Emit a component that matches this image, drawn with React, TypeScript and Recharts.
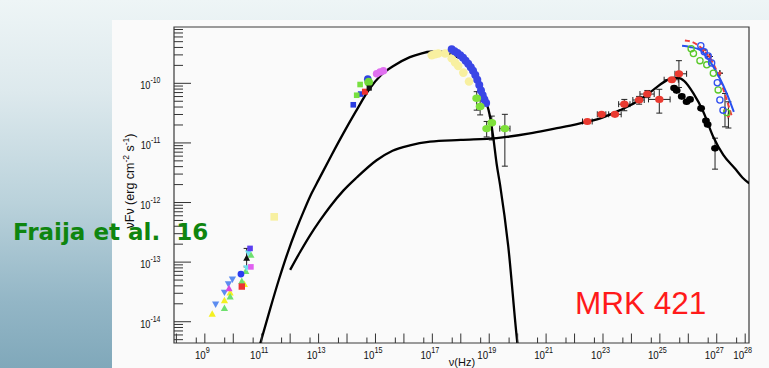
import React from 'react';
import { ComposedChart, XAxis, YAxis, Scatter, Line, ErrorBar, ReferenceArea } from 'recharts';

// All values are log10(nu / Hz) and log10(nuFnu / erg cm^-2 s^-1)
type Pt = [number, number];
// x, y, xLow, xHigh, yLow, yHigh
type ErrPt = [number, number, number, number, number, number];

const X_RANGE: [number, number] = [7.916, 28.134];
const Y_RANGE: [number, number] = [-14.357, -9.055];

const xDecades = [8, 9, 10, 11, 12, 13, 14, 15, 16, 17, 18, 19, 20, 21, 22, 23, 24, 25, 26, 27, 28];
const xLabelled = [9, 11, 13, 15, 17, 19, 21, 23, 25, 27, 28];

// Model curves
const synchrotronCurve: Pt[] = [
  [10.9, -14.45], [11.0, -14.28], [11.3, -13.78], [11.6, -13.3], [11.9, -12.86], [12.2, -12.47],
  [12.5, -12.12], [12.75, -11.85], [13.0, -11.62], [13.45, -11.21], [13.87, -10.84], [14.3, -10.48],
  [14.78, -10.1], [15.2, -9.86], [15.63, -9.71], [16.21, -9.56], [16.6, -9.5], [16.92, -9.47],
  [17.3, -9.47], [17.65, -9.52], [17.95, -9.57], [18.15, -9.61], [18.32, -9.66], [18.5, -9.78],
  [18.68, -10.0], [18.85, -10.25], [19.03, -10.56], [19.14, -10.9], [19.26, -11.35], [19.38, -11.7],
  [19.67, -12.74], [19.99, -14.36], [20.05, -14.6],
];

const comptonCurve: Pt[] = [
  [12.0, -13.13], [12.35, -12.83], [12.7, -12.55], [13.05, -12.3], [13.4, -12.07], [13.87, -11.8],
  [14.34, -11.58], [15.04, -11.29], [15.6, -11.13], [16.21, -11.04], [16.92, -10.98], [18.0, -10.95],
  [19.26, -10.92], [19.61, -10.9], [20.43, -10.84], [21.3, -10.76], [21.85, -10.71], [22.5, -10.64],
  [23.0, -10.57], [23.6, -10.45], [24.18, -10.31], [24.77, -10.11], [25.24, -9.95], [25.47, -9.91],
  [25.65, -9.91], [25.85, -9.96], [26.18, -10.17], [26.53, -10.48], [26.88, -10.9], [27.23, -11.2],
  [27.64, -11.43], [27.9, -11.58], [28.14, -11.68],
];

// TeV spectral fits
const tevFitBlue: Pt[] = [
  [25.78, -9.37], [26.06, -9.39], [26.41, -9.44], [26.65, -9.56], [26.88, -9.72], [27.11, -9.92],
  [27.35, -10.17], [27.6, -10.48],
];
const tevFitRed: Pt[] = [
  [25.88, -9.28], [26.1, -9.3], [26.53, -9.44], [26.88, -9.67], [27.23, -10.1], [27.52, -10.54],
];

// Radio / mm
const radioYellowTri: Pt[] = [[9.26, -13.87], [9.69, -13.64], [9.89, -13.51], [10.39, -13.37]];
const radioGreenTri: Pt[] = [[9.69, -13.77], [9.89, -13.58], [10.3, -13.32], [10.44, -13.15], [10.62, -12.88]];
const radioBlueTriDown: Pt[] = [[9.38, -13.71], [9.69, -13.51], [9.83, -13.37], [9.97, -13.29]];
const radioMagentaTri: Pt[] = [[9.85, -13.44]];
const radioBlueCircle: Pt[] = [[10.27, -13.2]];
const radioRedSquare: Pt[] = [[10.3, -13.41]];
const radioCyanTriDown: Pt[] = [[10.47, -13.1], [10.53, -12.85]];
const radioMagentaSquare: Pt[] = [[10.62, -13.08]];
const radioPurpleSquare: Pt[] = [[10.59, -12.77]];
const radioBlackTri: ErrPt[] = [[10.47, -12.93, 10.47, 10.47, -13.08, -12.77]];
const mmYellowSquare: Pt[] = [[11.44, -12.24]];

// Optical / UV
const optBlueSquare: Pt[] = [[14.22, -10.36], [14.48, -10.18]];
const optGreenSquare: Pt[] = [[14.34, -10.2], [14.46, -10.02]];
const optRedSquare: Pt[] = [[14.63, -10.14]];
const optBlueCircle: Pt[] = [[14.73, -9.93]];
const optGreenCircle: Pt[] = [[14.76, -9.98]];
const optBlackSquare: Pt[] = [[14.78, -10.08]];
const uvMagenta: Pt[] = [[15.04, -9.84], [15.16, -9.81], [15.28, -9.79]];

// X-ray
const xrayYellow: Pt[] = [
  [16.98, -9.53], [17.1, -9.51], [17.21, -9.5], [17.45, -9.5], [17.68, -9.58], [17.8, -9.65],
  [17.91, -9.71], [18.09, -9.82], [18.29, -9.97],
];
const xrayBlue: Pt[] = [
  [17.68, -9.43], [17.78, -9.46], [17.88, -9.49], [17.98, -9.53], [18.08, -9.57], [18.17, -9.62],
  [18.26, -9.67], [18.35, -9.73], [18.43, -9.79], [18.51, -9.86], [18.58, -9.94], [18.65, -10.03],
  [18.71, -10.12], [18.77, -10.2], [18.83, -10.27], [18.89, -10.33],
];
const xrayGreen: ErrPt[] = [
  [18.56, -10.25, 18.56, 18.56, -10.45, -10.14],
  [18.68, -10.39, 18.68, 18.68, -10.53, -10.28],
  [18.91, -10.76, 18.91, 18.91, -10.9, -10.64],
  [19.09, -10.66, 19.09, 19.09, -10.95, -10.55],
  [19.55, -10.76, 19.37, 19.73, -11.39, -10.52],
];

// GeV
const fermiRed: ErrPt[] = [
  [22.45, -10.64, 22.28, 22.62, -10.64, -10.64],
  [22.95, -10.52, 22.8, 23.1, -10.52, -10.52],
  [23.42, -10.52, 23.2, 23.64, -10.52, -10.52],
  [23.75, -10.35, 23.55, 23.95, -10.46, -10.27],
  [24.27, -10.28, 24.05, 24.45, -10.35, -10.22],
  [24.56, -10.18, 24.3, 24.8, -10.24, -10.12],
  [24.98, -10.27, 24.6, 25.36, -10.5, -10.1],
  [25.42, -9.94, 25.15, 25.65, -9.94, -9.94],
  [25.67, -9.84, 25.53, 25.94, -10.07, -9.62],
];

// TeV
const tevBlack: ErrPt[] = [
  [25.5, -10.08, 25.5, 25.5, -10.08, -10.08],
  [25.59, -10.12, 25.59, 25.59, -10.12, -10.12],
  [25.77, -10.22, 25.77, 25.77, -10.22, -10.22],
  [25.94, -10.31, 25.94, 25.94, -10.31, -10.31],
  [26.06, -10.27, 26.06, 26.06, -10.27, -10.27],
  [26.45, -10.42, 26.45, 26.45, -10.42, -10.42],
  [26.62, -10.63, 26.62, 26.62, -10.63, -10.63],
  [26.68, -10.69, 26.68, 26.68, -10.69, -10.69],
  [26.94, -11.09, 26.94, 26.94, -11.44, -10.92],
];
const tevBlueRing: Pt[] = [
  [26.44, -9.37], [26.56, -9.47], [26.7, -9.54], [26.82, -9.66], [27.02, -9.99], [27.11, -10.28], [27.22, -10.45],
];
const tevGreenRing: Pt[] = [
  [26.1, -9.42], [26.18, -9.5], [26.41, -9.62], [26.65, -9.69], [26.88, -9.83], [27.05, -10.11], [27.35, -10.49],
];
const tevRedMarks: ErrPt[] = [
  [26.53, -9.44, 26.53, 26.53, -9.44, -9.44],
  [26.76, -9.55, 26.76, 26.76, -9.55, -9.55],
  [27.11, -9.83, 27.11, 27.11, -9.83, -9.83],
  [27.29, -10.45, 27.29, 27.29, -10.73, -10.17],
  [27.41, -10.55, 27.41, 27.41, -10.75, -10.31],
];

const toPts = (arr: Pt[]) => arr.map(([x, y]) => ({ x, y }));
const toErrPts = (arr: ErrPt[]) =>
  arr.map(([x, y, xl, xh, yl, yh]) => ({ x, y, ex: [x - xl, xh - x], ey: [y - yl, yh - y] }));

// decade ticks plus a minor tick at 5 x 10^n on the frequency axis
const xTicks = [...xDecades, ...xDecades.map((d) => d - 1 + Math.log10(5))]
  .filter((v) => v >= X_RANGE[0] && v <= X_RANGE[1])
  .sort((a, b) => a - b);

// decade ticks plus minor ticks at 2..9 x 10^n on the flux axis
const yTicks: number[] = [];
for (let n = -15; n <= -10; n++) {
  for (let k = 1; k <= 9; k++) {
    const v = n + Math.log10(k);
    if (v >= Y_RANGE[0] && v <= Y_RANGE[1]) yTicks.push(v);
  }
}

const isMajor = (v: number) => Math.abs(v - Math.round(v)) < 1e-6;
const LABEL_FONT = '"Liberation Sans", Arial, Helvetica, sans-serif';

const XTick = (props: any) => {
  const { x, y, payload } = props;
  const v = payload.value as number;
  const major = isMajor(v);
  const exp = Math.round(v);
  return (
    <g>
      <line x1={x} x2={x} y1={y} y2={y - (major ? 9.5 : 5.5)} stroke="#333" strokeWidth={1} />
      {major && xLabelled.includes(exp) && (
        <g transform={`translate(${x - 2.5},${y + 16}) scale(0.85,1)`}>
          <text x={0} y={0} textAnchor="middle" fontSize={11.5} fontFamily={LABEL_FONT} fill="#111">
            10<tspan dy={-6.3} fontSize={8.5}>{exp}</tspan>
          </text>
        </g>
      )}
    </g>
  );
};

const YTick = (props: any) => {
  const { x, y, payload } = props;
  const v = payload.value as number;
  const major = isMajor(v);
  const exp = Math.round(v);
  return (
    <g>
      <line x1={x} x2={x + (major ? 17 : 9)} y1={y} y2={y} stroke="#333" strokeWidth={1} />
      {major && (
        <g transform={`translate(${x - 13.5},${y + 6}) scale(0.84,1)`}>
          <text x={0} y={0} textAnchor="end" fontSize={11} fontFamily={LABEL_FONT} fill="#111">
            10<tspan dy={-6} fontSize={8.3}>{exp}</tspan>
          </text>
        </g>
      )}
    </g>
  );
};

type Kind = 'circle' | 'ellipse' | 'square' | 'triUp' | 'triDown' | 'ring';
const marker = (kind: Kind, color: string, size: number) => (p: any) => {
  const { cx, cy } = p;
  if (cx == null || cy == null) return <g />;
  const s = size;
  switch (kind) {
    case 'circle':
      return <circle cx={cx} cy={cy} r={s} fill={color} />;
    case 'ellipse':
      return <ellipse cx={cx} cy={cy} rx={s} ry={s * 0.85} fill={color} />;
    case 'square':
      return <rect x={cx - s} y={cy - s} width={2 * s} height={2 * s} fill={color} />;
    case 'triUp':
      return <polygon points={`${cx - s},${cy + s * 0.8} ${cx + s},${cy + s * 0.8} ${cx},${cy - s}`} fill={color} />;
    case 'triDown':
      return <polygon points={`${cx - s},${cy - s * 0.8} ${cx + s},${cy - s * 0.8} ${cx},${cy + s}`} fill={color} />;
    default:
      return <circle cx={cx} cy={cy} r={s} fill="none" stroke={color} strokeWidth={1.3} />;
  }
};

const plainSeries: { data: Pt[]; kind: Kind; color: string; size: number }[] = [
  { data: radioYellowTri, kind: 'triUp', color: '#f4f020', size: 3.6 },
  { data: radioBlueTriDown, kind: 'triDown', color: '#5c8cf0', size: 3.6 },
  { data: radioGreenTri, kind: 'triUp', color: '#6ee06e', size: 3.6 },
  { data: radioMagentaTri, kind: 'triUp', color: '#d84ae0', size: 3.6 },
  { data: radioBlueCircle, kind: 'circle', color: '#2a3cf0', size: 3.4 },
  { data: radioRedSquare, kind: 'square', color: '#ee3333', size: 3.2 },
  { data: radioCyanTriDown, kind: 'triDown', color: '#70e0f0', size: 3.4 },
  { data: radioMagentaSquare, kind: 'square', color: '#e060f0', size: 2.8 },
  { data: radioPurpleSquare, kind: 'square', color: '#5a3ef0', size: 2.8 },
  { data: mmYellowSquare, kind: 'square', color: '#f7f0a0', size: 3.8 },
  { data: optBlueSquare, kind: 'square', color: '#2a3ce0', size: 2.8 },
  { data: optGreenSquare, kind: 'square', color: '#78e040', size: 2.8 },
  { data: optRedSquare, kind: 'square', color: '#ee3030', size: 3 },
  { data: optBlueCircle, kind: 'circle', color: '#3044e0', size: 3.8 },
  { data: optGreenCircle, kind: 'circle', color: '#70d838', size: 4.4 },
  { data: optBlackSquare, kind: 'square', color: '#111', size: 2.6 },
  { data: uvMagenta, kind: 'circle', color: '#e070f0', size: 3.8 },
  { data: xrayYellow, kind: 'circle', color: '#f8f0a0', size: 4.3 },
  { data: xrayBlue, kind: 'circle', color: '#3a46e6', size: 4 },
];

const errSeries: { data: ErrPt[]; kind: Kind; color: string; size: number }[] = [
  { data: radioBlackTri, kind: 'triUp', color: '#111', size: 3.4 },
  { data: xrayGreen, kind: 'ellipse', color: '#7ee03a', size: 4.4 },
  { data: fermiRed, kind: 'ellipse', color: '#ea3a30', size: 4.2 },
  { data: tevBlack, kind: 'ellipse', color: '#000', size: 3.9 },
  { data: tevRedMarks, kind: 'circle', color: '#f04040', size: 1.6 },
];

export default function App() {
  return (
    <div
      style={{
        position: 'absolute',
        left: 0,
        top: 0,
        width: 769,
        height: 368,
        overflow: 'hidden',
        background: 'linear-gradient(180deg, #eef5f6 0%, #dde9ed 25%, #bad2db 55%, #93b6c6 82%, #80a8ba 100%)',
      }}
    >
      <div style={{ position: 'absolute', left: 112, top: 20, width: 657, height: 348, background: '#fafafa' }} />
      <div style={{ position: 'absolute', left: 0, top: 0 }}>
        <ComposedChart width={769} height={368} margin={{ top: 27, right: 20, bottom: 24, left: 173 }}>
          <XAxis
            type="number"
            dataKey="x"
            domain={X_RANGE}
            allowDataOverflow
            ticks={xTicks}
            interval={0}
            tick={<XTick />}
            tickLine={false}
            axisLine={false}
            tickSize={0}
            tickMargin={0}
            height={1}
          />
          <YAxis
            type="number"
            dataKey="y"
            domain={Y_RANGE}
            allowDataOverflow
            ticks={yTicks}
            interval={0}
            tick={<YTick />}
            tickLine={false}
            axisLine={false}
            tickSize={0}
            tickMargin={0}
            width={1}
          />
          <ReferenceArea
            x1={X_RANGE[0]}
            x2={X_RANGE[1]}
            y1={Y_RANGE[0]}
            y2={Y_RANGE[1]}
            fill="none"
            stroke="#3a3a3a"
            strokeWidth={1.2}
            ifOverflow="visible"
          />
          {plainSeries.map((s, i) => (
            <Scatter
              key={`p${i}`}
              data={toPts(s.data)}
              shape={marker(s.kind, s.color, s.size)}
              isAnimationActive={false}
            />
          ))}
          {errSeries.map((s, i) => (
            <Scatter
              key={`e${i}`}
              data={toErrPts(s.data)}
              shape={marker(s.kind, s.color, s.size)}
              isAnimationActive={false}
            >
              <ErrorBar dataKey="ey" direction="y" width={3} stroke="#222" strokeWidth={1} />
              <ErrorBar dataKey="ex" direction="x" width={3} stroke="#222" strokeWidth={1} />
            </Scatter>
          ))}
          <Scatter data={toPts(tevGreenRing)} shape={marker('ring', '#58c828', 3.1)} isAnimationActive={false} />
          <Scatter data={toPts(tevBlueRing)} shape={marker('ring', '#3050f0', 3.1)} isAnimationActive={false} />
          <Line
            data={toPts(tevFitRed)}
            dataKey="y"
            type="monotone"
            stroke="#f03c3c"
            strokeWidth={2}
            strokeDasharray="5 3"
            dot={false}
            isAnimationActive={false}
          />
          <Line
            data={toPts(tevFitBlue)}
            dataKey="y"
            type="monotone"
            stroke="#2850f0"
            strokeWidth={2}
            dot={false}
            isAnimationActive={false}
          />
          <Line
            data={toPts(comptonCurve)}
            dataKey="y"
            type="monotone"
            stroke="#000"
            strokeWidth={2.3}
            dot={false}
            isAnimationActive={false}
          />
          <Line
            data={toPts(synchrotronCurve)}
            dataKey="y"
            type="monotone"
            stroke="#000"
            strokeWidth={2.3}
            dot={false}
            isAnimationActive={false}
          />
        </ComposedChart>
      </div>
      <svg
        width={769}
        height={368}
        style={{ position: 'absolute', left: 0, top: 0, pointerEvents: 'none' }}
      >
        <text
          transform="translate(134,181) rotate(-90)"
          textAnchor="middle"
          fontSize={12.5}
          fontFamily={LABEL_FONT}
          fill="#111"
        >
          νFν (erg cm<tspan dy={-5} fontSize={8.5}>-2</tspan>
          <tspan dy={5}> s</tspan>
          <tspan dy={-5} fontSize={8.5}>-1</tspan>
          <tspan dy={5}>)</tspan>
        </text>
        <text x={462} y={366} textAnchor="middle" fontSize={11} fontFamily={LABEL_FONT} fill="#111">
          ν(Hz)
        </text>
        <text
          x={13}
          y={240}
          fontSize={23}
          fontWeight="bold"
          fontFamily='"DejaVu Sans", sans-serif'
          fill="#0f850f"
          style={{ whiteSpace: 'pre' }}
        >
          {'Fraija et al.  16'}
        </text>
        <text x={575} y={314} fontSize={31.5} fontFamily={LABEL_FONT} fill="#ff1a1a">
          MRK 421
        </text>
      </svg>
    </div>
  );
}
